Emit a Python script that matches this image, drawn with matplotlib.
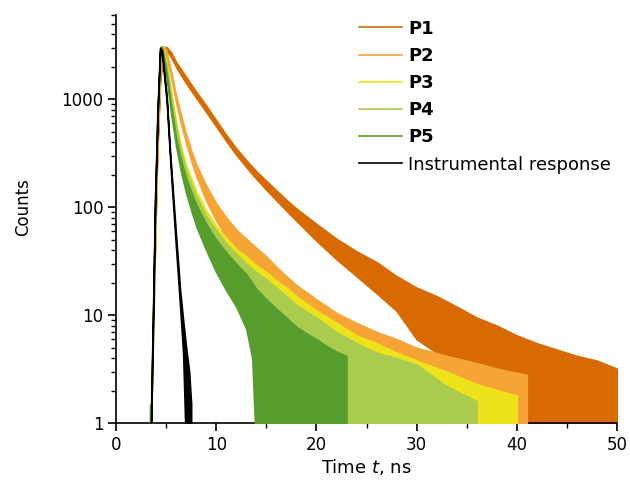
import matplotlib
matplotlib.use("Agg")
import matplotlib.pyplot as plt
from matplotlib.lines import Line2D
import numpy as np

plt.rcParams['font.family'] = ['DejaVu Sans']
plt.rcParams['mathtext.fontset'] = 'custom'
plt.rcParams['mathtext.rm'] = 'DejaVu Sans'
plt.rcParams['mathtext.it'] = 'DejaVu Sans:italic'

# ---- data: time in ns, counts as lower / upper envelope of the noisy decay ----
p1_t  = [3.5, 3.8, 4.1, 4.4, 4.7, 5.0, 5.5, 6, 7, 8, 9, 10, 11, 12, 13, 14, 15, 16, 17, 18,
         20, 22, 24, 26, 28, 30, 32, 34, 36, 38, 40, 42, 44, 46, 48, 50]
p1_lo = [1, 18, 280, 1450, 2600, 2850, 2450, 1980, 1400, 1030, 760, 560, 410, 305, 235, 183, 145, 116, 93, 75,
         49, 33, 23, 16, 11, 6, 4.5, 3.2, 2.4, 1.8, 1.3, 0.5, 0.5, 0.5, 0.5, 0.5]
p1_hi = [1.2, 22, 320, 1550, 2750, 3050, 2700, 2200, 1600, 1170, 870, 635, 465, 350, 272, 215, 175, 143, 117, 97,
         70, 51, 39, 31, 23, 18, 15, 12, 9.5, 8, 6.5, 5.5, 4.8, 4.2, 3.8, 3.2]

p2_t  = [3.5, 3.8, 4.1, 4.4, 4.7, 5.0, 5.5, 6, 6.5, 7, 7.5, 8, 9, 10, 11, 12, 13, 14, 15, 16, 17, 18,
         20, 22, 24, 26, 28, 30, 33, 36, 38, 41]
p2_lo = [1, 18, 320, 1700, 2850, 2550, 1600, 930, 590, 390, 270, 195, 115, 75, 53, 39, 30, 23, 18, 13.5, 10.5, 8,
         5, 3.5, 2.5, 1.8, 1.3, 0.5, 0.5, 0.5, 0.5, 0.5]
p2_hi = [1.2, 22, 380, 1900, 3100, 2850, 1800, 1070, 700, 470, 335, 250, 158, 108, 80, 62, 51, 42, 35, 28, 23, 19,
         14, 10.5, 8.5, 7, 6, 5, 4.2, 3.6, 3.2, 2.8]

p3_t  = [3.5, 3.8, 4.1, 4.4, 4.6, 5.0, 5.5, 6, 6.5, 7, 7.5, 8, 9, 10, 11, 12, 13, 14, 15, 16, 17, 18,
         20, 22, 24, 26, 28, 30, 33, 36, 40]
p3_lo = [1, 22, 470, 2200, 2880, 2080, 1030, 520, 300, 198, 146, 108, 68, 47, 34, 26, 20.5, 16, 13.5, 10.5, 8.5, 6.2,
         3.8, 2.4, 1.6, 0.5, 0.5, 0.5, 0.5, 0.5, 0.5]
p3_hi = [1.2, 28, 540, 2400, 3080, 2320, 1180, 610, 360, 245, 186, 142, 93, 67, 52, 41, 35, 29, 25, 21, 18, 15,
         11, 8.5, 6.5, 5.5, 4.5, 3.8, 3.0, 2.3, 1.8]

p4_t  = [3.5, 3.8, 4.1, 4.4, 4.6, 5.0, 5.5, 6, 6.5, 7, 7.5, 8, 9, 10, 11, 12, 13, 14, 15, 16, 17, 18,
         20, 22, 24, 26, 28, 30, 33, 36]
p4_lo = [1, 24, 500, 2250, 2880, 1990, 930, 460, 272, 178, 127, 95, 59, 41, 30, 22.5, 17.5, 14, 11.5, 9, 7, 5.5,
         3.3, 2.0, 0.5, 0.5, 0.5, 0.5, 0.5, 0.5]
p4_hi = [1.2, 30, 580, 2450, 3080, 2210, 1080, 545, 330, 222, 165, 127, 83, 61, 46, 37, 30, 25, 21.5, 18, 15, 12.5,
         9.5, 7, 5.5, 4.5, 4.0, 3.5, 2.2, 1.6]

p5_t  = [3.4, 3.5, 3.8, 4.1, 4.4, 4.55, 5.0, 5.5, 6, 6.5, 7, 7.5, 8, 9, 10, 11, 12, 13, 13.6, 14, 15, 16, 17, 18,
         19, 20, 21, 22, 23]
p5_lo = [0.5, 1, 28, 560, 2380, 2880, 1700, 740, 365, 210, 135, 94, 67, 40, 25, 17, 12, 7.5, 4, 0.5, 0.5, 0.5, 0.5, 0.5,
         0.5, 0.5, 0.5, 0.5, 0.5]
p5_hi = [1.5, 1.5, 34, 650, 2620, 3080, 1900, 860, 435, 270, 185, 138, 106, 70, 50, 38, 30, 24, 20, 17.5, 14, 11.5, 9.5, 7.8,
         6.8, 6, 5.2, 4.6, 4.2]

irf_t  = [3.5, 3.7, 3.9, 4.2, 4.4, 4.6, 4.8, 5.06, 5.4, 5.7, 6.1, 6.4, 6.7, 7.0, 7.3, 7.5]
irf_lo = [1, 9, 105, 950, 2850, 2550, 1650, 950, 280, 105, 30, 12, 4.5, 0.5, 0.5, 0.5]
irf_hi = [1.2, 11, 125, 1050, 3000, 2800, 1850, 1050, 320, 130, 40, 17, 9, 5, 3, 1.5]

labels = ['P1', 'P2', 'P3', 'P4', 'P5', 'Instrumental response']
colors = ['#D76B02', '#F6A436', '#EEE21A', '#A9CC4E', '#579D2E', '#000000']

series = [(p1_t, p1_lo, p1_hi), (p2_t, p2_lo, p2_hi), (p3_t, p3_lo, p3_hi),
          (p4_t, p4_lo, p4_hi), (p5_t, p5_lo, p5_hi), (irf_t, irf_lo, irf_hi)]

W, H = 630, 493
fig = plt.figure(figsize=(W / 100, H / 100), dpi=100)
ax = fig.add_axes([116 / W, 1 - 423.3 / H, (617 - 116) / W, (423.3 - 15) / H])

for i, ((t, lo, hi), c) in enumerate(zip(series, colors)):
    ax.fill_between(t, lo, hi, color=c, linewidth=1.2, edgecolor=c, zorder=2 + i)

ax.set_yscale('log')
ax.set_xlim(0, 50)
ax.set_ylim(1, 6000)
ax.set_xticks([0, 10, 20, 30, 40, 50])
ax.set_xticks([5, 15, 25, 35, 45], minor=True)
ax.set_yticks([1, 10, 100, 1000])
ax.set_yticklabels(['1', '10', '100', '1000'])
ax.yaxis.set_minor_locator(matplotlib.ticker.LogLocator(base=10, subs=np.arange(2, 10)))
ax.yaxis.set_minor_formatter(matplotlib.ticker.NullFormatter())

for s in ['top', 'right']:
    ax.spines[s].set_visible(False)
for s in ['left', 'bottom']:
    ax.spines[s].set_linewidth(1.2)
ax.tick_params(axis='both', which='major', direction='out', length=6, width=1.2, labelsize=12, pad=3)
ax.tick_params(axis='both', which='minor', direction='out', length=3.5, width=1.0)

fig.text(23 / W, 1 - 207 / H, 'Counts', rotation=90, ha='center', va='center', fontsize=12)
fig.text(366 / W, 1 - 467 / H, 'Time $t$, ns', ha='center', va='center', fontsize=13)

handles = [Line2D([0], [0], color=c, lw=1.2) for c in colors]
leg = fig.legend(handles, labels, loc='upper left', bbox_to_anchor=(346 / W, 1 - 7 / H),
                 frameon=False, fontsize=13, handlelength=2.4, handletextpad=0.35,
                 labelspacing=0.51, borderpad=0.2)
for txt in leg.get_texts()[:5]:
    txt.set_fontweight('bold')

fig.savefig('out.png', dpi=100)
